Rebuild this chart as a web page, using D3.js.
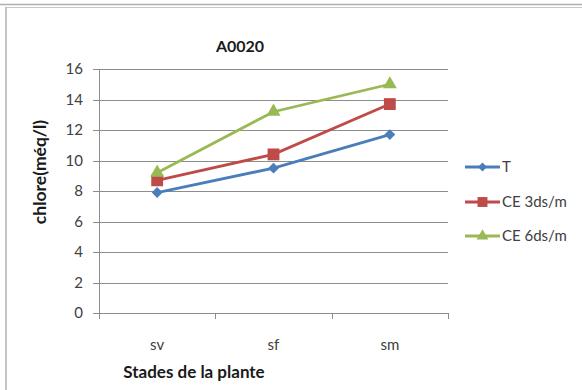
<!DOCTYPE html>
<html>
  <head>
    <meta charset="utf-8">
    <title>A0020</title>
    <script src="https://d3js.org/d3.v7.min.js"></script>
    <style type="text/css">
      body { margin: 0; background: #fff; }
      #chart text { font-family: Lato, "Open Sans", sans-serif; fill: #404040; }
    </style>
  </head>
  <body>
    <svg id="chart"></svg>
    <script>
      var stages = ["sv", "sf", "sm"];
      var seriesNames = ["T", "CE 3ds/m", "CE 6ds/m"];
      var valuesT = [7.9, 9.5, 11.7];
      var valuesCE3 = [8.7, 10.4, 13.7];
      var valuesCE6 = [9.2, 13.2, 15.0];
      var yTicks = [0, 2, 4, 6, 8, 10, 12, 14, 16];

      var colors = ["#4a7ebb", "#be4b48", "#98b954"];
      var shapes = [d3.symbolDiamond2, d3.symbolSquare, d3.symbolTriangle];
      var series = [valuesT, valuesCE3, valuesCE6];

      var width = 582, height = 390;
      var plotL = 99, plotR = 448, plotT = 69, plotB = 313;

      var svg = d3.select("#chart").attr("width", width).attr("height", height);

      // cadre
      svg.append("line").attr("x1", 0).attr("x2", width).attr("y1", 4.5).attr("y2", 4.5)
        .attr("stroke", "#b0b0b0").attr("stroke-width", 1.5);
      svg.append("line").attr("x1", 6).attr("x2", width).attr("y1", 7.5).attr("y2", 7.5)
        .attr("stroke", "#c8c8c8").attr("stroke-width", 1);
      svg.append("line").attr("x1", 6).attr("x2", 6).attr("y1", 7).attr("y2", height)
        .attr("stroke", "#b0b0b0").attr("stroke-width", 1.5);

      var x = d3.scaleBand().domain(stages).range([plotL, plotR]);
      var y = d3.scaleLinear().domain([0, 16]).range([plotB, plotT]);

      // grille
      svg.append("g").selectAll("line").data(yTicks).enter().append("line")
        .attr("x1", plotL - 6).attr("x2", plotR)
        .attr("y1", function(d) { return Math.round(y(d)) + 0.5; })
        .attr("y2", function(d) { return Math.round(y(d)) + 0.5; })
        .attr("stroke", "#8c8c8c").attr("stroke-width", 1);

      // axe y
      svg.append("line").attr("x1", plotL + 0.5).attr("x2", plotL + 0.5)
        .attr("y1", plotT).attr("y2", plotB + 0.5).attr("stroke", "#8c8c8c");
      svg.append("g").selectAll("text").data(yTicks).enter().append("text")
        .attr("x", 83).attr("y", function(d) { return y(d); })
        .attr("dy", "0.36em").attr("text-anchor", "end")
        .style("font-size", "15px").text(function(d) { return d; });

      // axe x
      var xEdges = [plotL].concat(stages.map(function(s) { return x(s) + x.bandwidth(); }));
      svg.append("g").selectAll("line").data(xEdges).enter().append("line")
        .attr("x1", function(d) { return Math.round(d) + 0.5; })
        .attr("x2", function(d) { return Math.round(d) + 0.5; })
        .attr("y1", plotB).attr("y2", plotB + 6).attr("stroke", "#8c8c8c");
      svg.append("g").selectAll("text").data(stages).enter().append("text")
        .attr("x", function(d) { return x(d) + x.bandwidth() / 2; })
        .attr("y", 350).attr("text-anchor", "middle")
        .style("font-size", "15px").text(function(d) { return d; });

      // titres
      svg.append("text").attr("x", 240).attr("y", 52).attr("text-anchor", "middle")
        .style("font-size", "16px").style("font-weight", "bold").style("fill", "#1a1a1a")
        .text("A0020");
      svg.append("text").attr("x", 194).attr("y", 378).attr("text-anchor", "middle")
        .style("font-size", "17px").style("font-weight", "bold").style("fill", "#1a1a1a")
        .text("Stades de la plante");
      svg.append("text").attr("transform", "translate(46,172) rotate(-90)")
        .attr("text-anchor", "middle")
        .style("font-size", "17.5px").style("font-weight", "bold").style("fill", "#1a1a1a")
        .text("chlore(méq/l)");

      // séries
      var line = d3.line()
        .x(function(d, i) { return x(stages[i]) + x.bandwidth() / 2; })
        .y(function(d) { return y(d); });

      var sizes = [75, 140, 85];
      series.forEach(function(vals, k) {
        svg.append("path").datum(vals).attr("d", line)
          .attr("fill", "none").attr("stroke", colors[k]).attr("stroke-width", 2.8);
        svg.append("g").selectAll("path").data(vals).enter().append("path")
          .attr("transform", function(d, i) {
            return "translate(" + (x(stages[i]) + x.bandwidth() / 2) + "," + y(d) + ")";
          })
          .attr("d", d3.symbol().type(shapes[k]).size(sizes[k]))
          .attr("fill", colors[k]);
      });

      // légende
      var legendY = [167, 202, 236];
      var legend = svg.append("g").selectAll("g").data(seriesNames).enter().append("g")
        .attr("transform", function(d, i) { return "translate(465," + legendY[i] + ")"; });
      legend.append("line").attr("x1", 0).attr("x2", 35).attr("y1", 0).attr("y2", 0)
        .attr("stroke", function(d, i) { return colors[i]; }).attr("stroke-width", 2.8);
      legend.append("path").attr("transform", "translate(17.5,0)")
        .attr("d", function(d, i) { return d3.symbol().type(shapes[i]).size(sizes[i] * 0.7)(); })
        .attr("fill", function(d, i) { return colors[i]; });
      legend.append("text").attr("x", 37).attr("dy", "0.36em")
        .style("font-size", "15px").text(function(d) { return d; });
    </script>
  </body>
</html>
